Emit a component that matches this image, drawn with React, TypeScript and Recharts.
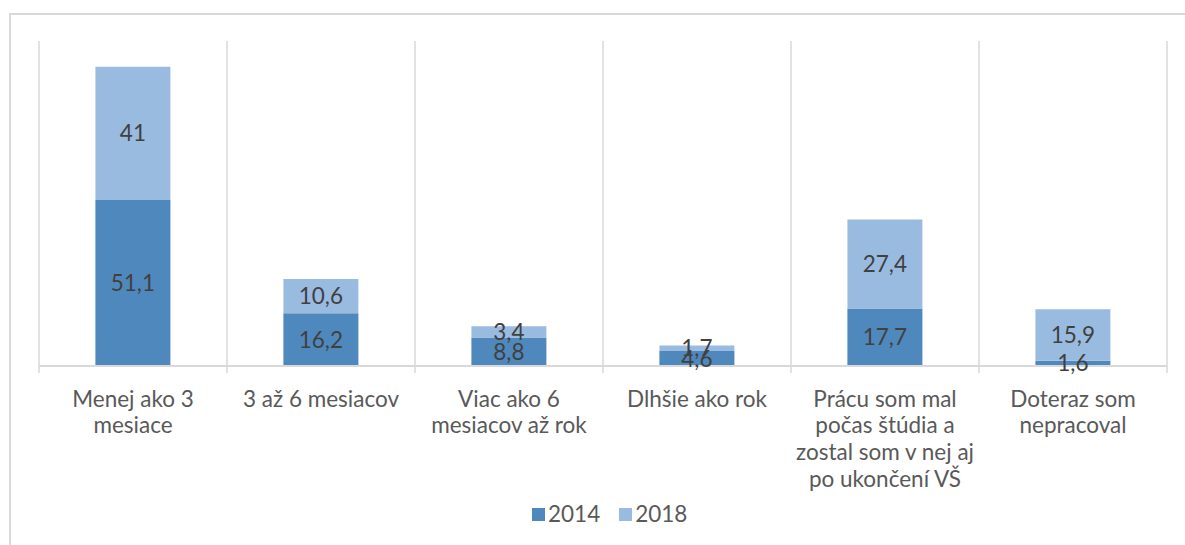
import React from "react";
import { BarChart, Bar, XAxis, YAxis, CartesianGrid, LabelList, Legend } from "recharts";

const categoryLines: string[][] = [
  ["Menej ako 3", "mesiace"],
  ["3 až 6 mesiacov"],
  ["Viac ako 6", "mesiacov až rok"],
  ["Dlhšie ako rok"],
  ["Prácu som mal", "počas štúdia a", "zostal som v nej aj", "po ukončení VŠ"],
  ["Doteraz som", "nepracoval"],
];
const categories = categoryLines.map((l) => l.join(" "));
const values2014 = [51.1, 16.2, 8.8, 4.6, 17.7, 1.6];
const values2018 = [41, 10.6, 3.4, 1.7, 27.4, 15.9];
const seriesNames = ["2014", "2018"];
const seriesColors = ["#4f88bd", "#9abbe0"];

const data = categories.map((c, i) => ({
  name: c,
  s2014: values2014[i],
  s2018: values2018[i],
}));

const FONT = "Lato, 'Liberation Sans', sans-serif";
const FS = 22.5;
const GRID = "#d9d9d9";

const fmt = (v: any) => String(v).replace(".", ",");

const CategoryTick = (props: any) => {
  const { x, y, index, width, visibleTicksCount } = props;
  const n = visibleTicksCount || categories.length;
  const band = width && n ? width / n : 188;
  const lines = categoryLines[index] || [];
  return (
    <g>
      <line x1={x - band / 2} x2={x - band / 2} y1={y} y2={y + 7} stroke={GRID} strokeWidth={1.5} />
      {index === n - 1 && (
        <line x1={x + band / 2} x2={x + band / 2} y1={y} y2={y + 7} stroke={GRID} strokeWidth={1.5} />
      )}
      {lines.map((ln, i) => (
        <text
          key={i}
          x={x}
          y={y + 40.7 + i * 26.7}
          textAnchor="middle"
          fill="#595959"
          fontFamily={FONT}
          fontSize={FS}
        >
          {ln}
        </text>
      ))}
    </g>
  );
};

const LegendContent = () => (
  <div
    style={{
      display: "flex",
      alignItems: "center",
      fontFamily: FONT,
      fontSize: FS,
      color: "#595959",
      lineHeight: "26px",
      whiteSpace: "nowrap",
    }}
  >
    {seriesNames.map((s, i) => (
      <span key={s} style={{ display: "flex", alignItems: "center", marginRight: 19 }}>
        <span style={{ display: "inline-block", width: 13, height: 13, background: seriesColors[i], marginRight: 3 }} />
        {s}
      </span>
    ))}
  </div>
);

export default function App() {
  return (
    <div style={{ position: "absolute", left: 0, top: 0, width: 1185, height: 545, background: "#fff", overflow: "hidden" }}>
      <div
        style={{
          position: "absolute",
          left: 9,
          top: 13,
          width: 1200,
          height: 600,
          borderTop: `2px solid ${GRID}`,
          borderLeft: `2px solid ${GRID}`,
          boxSizing: "border-box",
        }}
      />
      <div style={{ position: "absolute", left: 0, top: 0 }}>
        <BarChart
          width={1185}
          height={545}
          data={data}
          margin={{ top: 41, right: 18, bottom: 119, left: 39 }}
          barCategoryGap="30%"
        >
          <CartesianGrid
            horizontal={false}
            stroke={GRID}
            strokeWidth={1.5}
            verticalCoordinatesGenerator={({ offset }: any) =>
              Array.from({ length: categories.length + 1 }, (_, i) => offset.left + (i * offset.width) / categories.length)
            }
          />
          <XAxis
            dataKey="name"
            height={60}
            interval={0}
            tickLine={false}
            tickSize={0}
            tickMargin={0}
            axisLine={{ stroke: GRID, strokeWidth: 2 }}
            tick={<CategoryTick />}
          />
          <YAxis hide domain={[0, 100]} />
          <Legend
            layout="horizontal"
            verticalAlign="middle"
            align="center"
            wrapperStyle={{ left: 532, top: 501, width: "auto" }}
            content={<LegendContent />}
          />
          <Bar dataKey="s2014" name={seriesNames[0]} stackId="a" fill={seriesColors[0]} isAnimationActive={false}>
            <LabelList dataKey="s2014" position="center" formatter={fmt} fill="#404040" fontFamily={FONT} fontSize={FS} />
          </Bar>
          <Bar dataKey="s2018" name={seriesNames[1]} stackId="a" fill={seriesColors[1]} isAnimationActive={false}>
            <LabelList dataKey="s2018" position="center" formatter={fmt} fill="#404040" fontFamily={FONT} fontSize={FS} />
          </Bar>
        </BarChart>
      </div>
    </div>
  );
}
